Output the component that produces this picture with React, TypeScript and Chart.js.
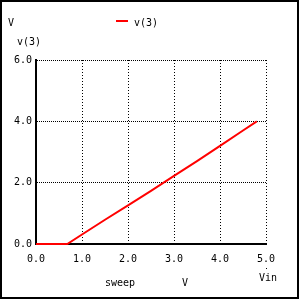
import React, { useEffect, useRef } from "react";
import { Chart, registerables } from "chart.js";

Chart.register(...registerables);

const sweepVin = [0, 0.2, 0.4, 0.6, 0.68, 1.0, 1.5, 2.0, 2.5, 3.0, 3.5, 4.0, 4.5, 4.8];
const v3Values = [0, 0, 0, 0, 0, 0.31, 0.79, 1.26, 1.73, 2.22, 2.7, 3.2, 3.7, 4.0];
const seriesLabel = "v(3)";
const yUnit = "V";
const xTitle = "sweep";
const xUnit = "V";
const xVarName = "Vin";

const FONT = "DejaVu Sans Mono";

const decorPlugin = {
  id: "decor",
  afterDraw(chart: any) {
    const ctx = chart.ctx as CanvasRenderingContext2D;
    ctx.save();
    ctx.fillStyle = "#000";
    ctx.font = `10px "${FONT}"`;
    ctx.textBaseline = "middle";
    ctx.textAlign = "left";
    ctx.fillText(yUnit, 8, 23);
    ctx.fillText(seriesLabel, 17, 42);
    ctx.fillText(seriesLabel, 134, 23);
    ctx.fillText(xTitle, 105, 283);
    ctx.fillText(xUnit, 182, 283);
    ctx.fillText(xVarName, 259, 278);
    ctx.fillRect(266, 268, 1, 1);
    const ds = chart.data.datasets[0];
    ctx.strokeStyle = ds.borderColor;
    ctx.lineWidth = 2;
    ctx.beginPath();
    ctx.moveTo(116, 21);
    ctx.lineTo(128, 21);
    ctx.stroke();
    ctx.strokeStyle = "#000";
    ctx.lineWidth = 2;
    ctx.strokeRect(1, 1, 297, 297);
    ctx.restore();
  },
};

export default function App() {
  const ref = useRef<HTMLCanvasElement | null>(null);
  useEffect(() => {
    if (!ref.current) return;
    const chart = new Chart(ref.current, {
      type: "line",
      data: {
        datasets: [
          {
            label: seriesLabel,
            data: sweepVin.map((x, i) => ({ x, y: v3Values[i] })),
            borderColor: "#ff0000",
            borderWidth: 2,
            pointRadius: 0,
            tension: 0,
            fill: false,
            clip: 2,
          },
        ],
      },
      options: {
        animation: false,
        responsive: false,
        maintainAspectRatio: false,
        devicePixelRatio: 1,
        layout: { padding: { left: 0, top: 60, right: 33, bottom: 0 } },
        plugins: { legend: { display: false }, tooltip: { enabled: false }, title: { display: false } },
        scales: {
          x: {
            type: "linear",
            min: 0,
            max: 5,
            afterFit: (s: any) => {
              s.height = 55;
            },
            ticks: {
              stepSize: 1,
              color: "#000",
              font: { family: FONT, size: 10 },
              padding: 9,
              maxRotation: 0,
              callback: (v: any) => Number(v).toFixed(1),
            },
            grid: { color: "#000", lineWidth: 1, drawTicks: false },
            border: { display: true, color: "#000", width: 2, dash: [1, 2], z: -1 },
          },
          y: {
            type: "linear",
            min: 0,
            max: 6,
            afterFit: (s: any) => {
              s.width = 36;
            },
            ticks: {
              stepSize: 2,
              color: "#000",
              font: { family: FONT, size: 10 },
              padding: 4,
              callback: (v: any) => Number(v).toFixed(1),
            },
            grid: { color: "#000", lineWidth: 1, drawTicks: false },
            border: { display: true, color: "#000", width: 2, dash: [1, 1], z: -1 },
          },
        },
      },
      plugins: [decorPlugin],
    } as any);
    return () => chart.destroy();
  }, []);
  return (
    <div style={{ position: "fixed", left: 0, top: 0, width: 299, height: 299, background: "#fff" }}>
      <canvas ref={ref} width={299} height={299} style={{ width: 299, height: 299, display: "block" }} />
    </div>
  );
}
